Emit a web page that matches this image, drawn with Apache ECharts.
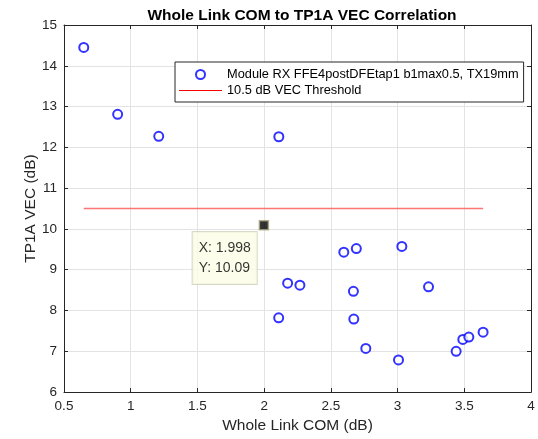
<!DOCTYPE html>
<html>
<head>
<meta charset="utf-8">
<script src="https://cdn.jsdelivr.net/npm/echarts@6/dist/echarts.min.js"></script>
<style>
  html, body { margin: 0; padding: 0; background: #fff; }
  #main { width: 538px; height: 439px; }
</style>
</head>
<body>
<div id="main"></div>
<script>
var comX = [0.648, 0.902, 1.210, 2.110, 2.176, 2.268, 2.109, 2.597, 2.691, 3.032,
            2.669, 2.672, 2.762, 3.007, 3.232, 3.439, 3.489, 3.534, 3.641];
var vecY = [14.45, 12.81, 12.27, 12.26, 8.67, 8.62, 7.82, 9.43, 9.52, 9.57,
            8.47, 7.79, 7.07, 6.79, 8.58, 7.00, 7.29, 7.35, 7.47];
var threshold = 10.5;
var tipPoint = [1.998, 10.09];
var seriesNames = ['Module RX FFE4postDFEtap1 b1max0.5, TX19mm', '10.5 dB VEC Threshold'];

var scatterData = [];
for (var i = 0; i < comX.length; i++) {
  scatterData.push([comX[i], vecY[i]]);
}
var lineData = [[Math.min.apply(null, comX), threshold], [Math.max.apply(null, comX), threshold]];

var chartDom = document.getElementById('main');
var myChart = echarts.init(chartDom);
var axisColor = '#262626';
var font = 'Liberation Sans, Arial, sans-serif';

// top / right axes just to close the box with inward ticks
function boxAxis(pos, isX) {
  return {
    type: 'value',
    position: pos,
    min: isX ? 0.5 : 6,
    max: isX ? 4 : 15,
    interval: isX ? 0.5 : 1,
    axisLine: { show: true, onZero: false, lineStyle: { color: axisColor, width: 1 } },
    axisTick: { show: true, inside: true, length: 4, lineStyle: { color: axisColor } },
    axisLabel: { show: false },
    splitLine: { show: false }
  };
}

var option = {
  animation: false,
  backgroundColor: '#fff',
  textStyle: { fontFamily: font },
  title: {
    text: 'Whole Link COM to TP1A VEC Correlation',
    left: 297,
    textAlign: 'center',
    top: 3,
    textStyle: { fontSize: 15.5, fontWeight: 'bold', color: '#000', fontFamily: font }
  },
  grid: { left: 64, top: 25, right: 7, bottom: 46 },
  legend: {
    orient: 'vertical',
    left: 175,
    top: 62,
    padding: [6, 5, 5, 4],
    itemWidth: 43,
    itemHeight: 9,
    itemGap: 3,
    itemTextGap: 4,
    borderColor: axisColor,
    borderWidth: 1,
    backgroundColor: '#fff',
    textStyle: { fontSize: 12.8, color: '#000', fontFamily: font },
    data: [
      { name: seriesNames[0], icon: 'emptyCircle' },
      { name: seriesNames[1], icon: 'path://M0,0 L43,0 L43,1 L0,1 Z' }
    ]
  },
  xAxis: [
    {
      type: 'value',
      min: 0.5,
      max: 4,
      interval: 0.5,
      name: 'Whole Link COM (dB)',
      nameLocation: 'middle',
      nameGap: 24,
      nameTextStyle: { fontSize: 15.5, color: axisColor, fontFamily: font },
      axisLine: { show: true, onZero: false, lineStyle: { color: axisColor, width: 1 } },
      axisTick: { show: true, inside: true, length: 4, lineStyle: { color: axisColor } },
      axisLabel: { fontSize: 13.5, color: axisColor, margin: 7, fontFamily: font },
      splitLine: { show: true, lineStyle: { color: '#e3e3e3', width: 1 } }
    },
    boxAxis('top', true)
  ],
  yAxis: [
    {
      type: 'value',
      min: 6,
      max: 15,
      interval: 1,
      name: 'TP1A VEC (dB)',
      nameLocation: 'middle',
      nameGap: 25,
      nameMoveOverlap: false,
      nameTextStyle: { fontSize: 15.5, color: axisColor, fontFamily: font },
      axisLine: { show: true, onZero: false, lineStyle: { color: axisColor, width: 1 } },
      axisTick: { show: true, inside: true, length: 4, lineStyle: { color: axisColor } },
      axisLabel: { fontSize: 13.5, color: axisColor, margin: 7, fontFamily: font },
      splitLine: { show: true, lineStyle: { color: '#e3e3e3', width: 1 } }
    },
    boxAxis('right', false)
  ],
  series: [
    {
      name: seriesNames[0],
      type: 'scatter',
      symbol: 'emptyCircle',
      symbolSize: 9,
      itemStyle: { color: '#0000ff', borderColor: '#0000ff', borderWidth: 1 },
      data: scatterData,
      z: 3
    },
    {
      name: seriesNames[1],
      type: 'line',
      symbol: 'none',
      lineStyle: { color: '#ff7575', width: 1.5 },
      itemStyle: { color: '#ff0000' },
      data: lineData,
      z: 2
    },
    {
      name: 'datatip',
      type: 'scatter',
      symbol: 'rect',
      symbolSize: 9,
      itemStyle: { color: '#000', borderColor: '#a8a27a', borderWidth: 1.5 },
      label: {
        show: true,
        position: [-66, 12],
        formatter: 'X: ' + tipPoint[0] + '\nY: ' + tipPoint[1],
        fontSize: 14,
        lineHeight: 20,
        color: '#000',
        fontFamily: font,
        backgroundColor: '#fdfde6',
        borderColor: '#cfcfbb',
        borderWidth: 1,
        padding: [6, 6, 6, 6]
      },
      data: [tipPoint],
      z: 5
    }
  ]
};
option && myChart.setOption(option);
</script>
</body>
</html>
